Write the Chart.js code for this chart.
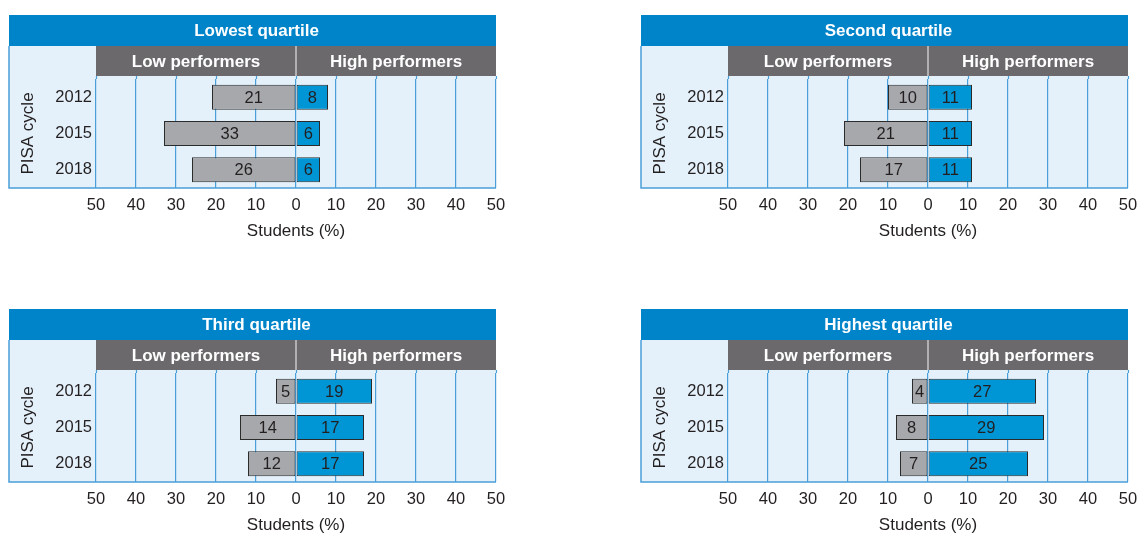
<!DOCTYPE html>
<html>
<head>
<meta charset="utf-8">
<script src="https://cdn.jsdelivr.net/npm/chart.js@4/dist/chart.umd.min.js"></script>
<style>
  body { margin: 0; background: #fff; width: 1138px; height: 533px; overflow: hidden; position: relative; }
  .panel { position: absolute; width: 506px; height: 266px; }
</style>
</head>
<body>
<div class="panel" style="left:0;top:0"><canvas id="c0"></canvas></div>
<div class="panel" style="left:632px;top:0"><canvas id="c1"></canvas></div>
<div class="panel" style="left:0;top:294px"><canvas id="c2"></canvas></div>
<div class="panel" style="left:632px;top:294px"><canvas id="c3"></canvas></div>
<script>
const years = ['2012', '2015', '2018']
const quartiles = ['Lowest quartile', 'Second quartile', 'Third quartile', 'Highest quartile']
const lowPerformers = [[21, 33, 26], [10, 21, 17], [5, 14, 12], [4, 8, 7]]
const highPerformers = [[8, 6, 6], [11, 11, 11], [19, 17, 17], [27, 29, 25]]
const groupLabels = ['Low performers', 'High performers']
const axisTitle = 'Students (%)'
const yTitle = 'PISA cycle'

const FONT = '"Liberation Sans", Arial, sans-serif'
const TEXT = '#231f20'
const BLUE_DARK = '#0084c9'
const GRID = '#4a9fd9'

// title bar, group header, light background and frame
const panelFrame = {
  id: 'panelFrame',
  beforeDraw(chart, args, opts) {
    const {ctx, chartArea: a} = chart
    const x0 = 9
    const headBottom = a.top - 3
    const headTop = headBottom - 30
    const titleTop = headTop - 31
    const xs = chart.scales.x
    const zero = xs.getPixelForValue(0)
    ctx.save()
    ctx.fillStyle = '#e4f1fa'
    ctx.fillRect(x0, headTop, a.right - x0, a.bottom - headTop)
    ctx.fillStyle = BLUE_DARK
    ctx.fillRect(x0, titleTop, a.right - x0, 31)
    ctx.fillStyle = '#6c696d'
    ctx.fillRect(a.left, headTop, a.right - a.left, 30)
    // grid continues up to the header
    ctx.strokeStyle = GRID
    ctx.lineWidth = 1.2
    xs.ticks.forEach(t => {
      const x = Math.round(xs.getPixelForValue(t.value)) + 0.5
      ctx.beginPath()
      ctx.moveTo(x, headBottom)
      ctx.lineTo(x, a.top)
      ctx.stroke()
    })
    ctx.strokeStyle = '#c9c9cb'
    ctx.lineWidth = 1.5
    ctx.beginPath()
    ctx.moveTo(zero, headTop)
    ctx.lineTo(zero, headBottom)
    ctx.stroke()
    ctx.fillStyle = '#ffffff'
    ctx.font = 'bold 17px ' + FONT
    ctx.textAlign = 'center'
    ctx.textBaseline = 'middle'
    ctx.fillText(opts.title, (x0 + a.right) / 2 + 4, titleTop + 16)
    ctx.fillText(groupLabels[0], (a.left + zero) / 2, headTop + 16)
    ctx.fillText(groupLabels[1], (zero + a.right) / 2, headTop + 16)
    ctx.restore()
  },
  afterDraw(chart) {
    const {ctx, chartArea: a} = chart
    ctx.save()
    ctx.strokeStyle = GRID
    ctx.lineWidth = 1.5
    ctx.beginPath()
    ctx.moveTo(9, a.top - 33)
    ctx.lineTo(9, a.bottom)
    ctx.lineTo(a.right, a.bottom)
    ctx.stroke()
    ctx.restore()
  }
}

// value labels in the middle of each bar
const barValues = {
  id: 'barValues',
  afterDatasetsDraw(chart) {
    const {ctx} = chart
    ctx.save()
    ctx.fillStyle = TEXT
    ctx.font = '16.5px ' + FONT
    ctx.textAlign = 'center'
    ctx.textBaseline = 'middle'
    chart.data.datasets.forEach((ds, i) => {
      chart.getDatasetMeta(i).data.forEach((bar, j) => {
        ctx.fillText(Math.abs(ds.data[j]), (bar.x + bar.base) / 2, bar.y + 1)
      })
    })
    ctx.restore()
  }
}

quartiles.forEach((title, i) => {
  new Chart(document.getElementById('c' + i), {
    type: 'bar',
    data: {
      labels: years,
      datasets: [
        {
          label: groupLabels[0],
          data: lowPerformers[i].map(v => -v),
          backgroundColor: '#a7a8ab',
          borderColor: '#2b2b2b',
          borderWidth: 1,
          borderSkipped: false
        },
        {
          label: groupLabels[1],
          data: highPerformers[i],
          backgroundColor: '#0096d6',
          borderColor: '#2b2b2b',
          borderWidth: 1,
          borderSkipped: false
        }
      ]
    },
    options: {
      indexAxis: 'y',
      responsive: true,
      maintainAspectRatio: false,
      animation: false,
      categoryPercentage: 1,
      barPercentage: 0.69,
      layout: {padding: {left: 9, top: 79, right: 10, bottom: 8}},
      plugins: {
        legend: {display: false},
        tooltip: {enabled: false},
        panelFrame: {title}
      },
      scales: {
        x: {
          stacked: true,
          min: -50,
          max: 50,
          ticks: {
            stepSize: 10,
            color: TEXT,
            font: {family: FONT, size: 16.5},
            padding: 8,
            maxRotation: 0,
            callback: v => Math.abs(v)
          },
          grid: {color: GRID, lineWidth: 1.2, drawTicks: false},
          border: {display: false},
          title: {
            display: true,
            text: axisTitle,
            color: TEXT,
            font: {family: FONT, size: 17},
            padding: {top: 0, bottom: 16}
          },
          afterFit(scale) {
            scale.height = 70
            scale.paddingLeft = 0
            scale.paddingRight = 0
          }
        },
        y: {
          stacked: true,
          ticks: {
            color: TEXT,
            font: {family: FONT, size: 16.5},
            padding: 4
          },
          grid: {display: false, drawTicks: false},
          border: {display: false},
          title: {
            display: true,
            text: yTitle,
            color: TEXT,
            font: {family: FONT, size: 17},
            padding: {top: 9, bottom: 0}
          },
          afterFit(scale) { scale.width = 87 }
        }
      }
    },
    plugins: [panelFrame, barValues]
  })
})
</script>
</body>
</html>
